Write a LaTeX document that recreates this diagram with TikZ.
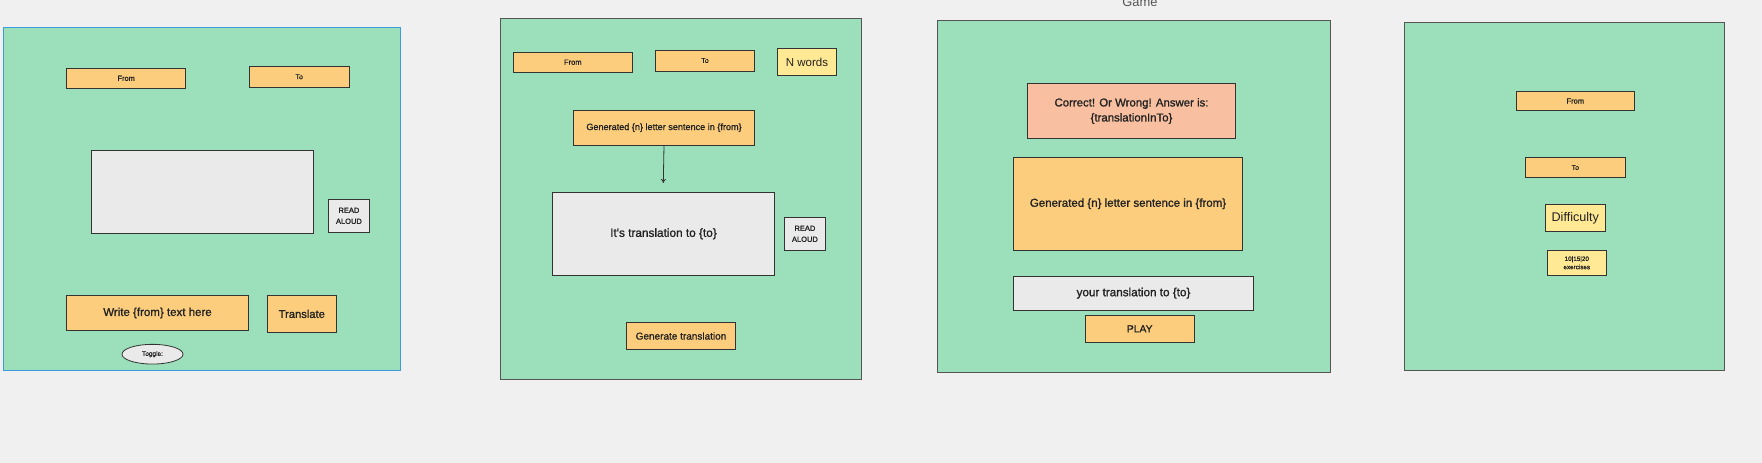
\documentclass[tikz,border=0pt]{standalone}
\usepackage{fontspec}
\setmainfont{Liberation Sans}
\newfontfamily\semib{Liberation Sans}[FakeBold=1.2]
\usetikzlibrary{shapes.geometric,arrows.meta}
\definecolor{bgc}{HTML}{F0F0F0}
\definecolor{greenc}{HTML}{9BE0BB}
\definecolor{orangec}{HTML}{FCCD7D}
\definecolor{yellowc}{HTML}{FFE994}
\definecolor{salmonc}{HTML}{F8BFA0}
\definecolor{grayc}{HTML}{EAEAEA}
\definecolor{bluec}{HTML}{3B9DDD}
\definecolor{framec}{HTML}{555555}
\definecolor{linec}{HTML}{333333}
\definecolor{textc}{HTML}{222222}
\newcommand\fsz[2]{\fontsize{#1}{#2}\selectfont}
\tikzset{
  panel/.style={draw=framec, line width=0.9pt, fill=greenc, inner sep=0pt},
  panelblue/.style={panel, draw=bluec},
  box/.style={draw=linec, line width=0.8pt, inner sep=0pt, text=textc, align=center},
  obox/.style={box, fill=orangec},
  ybox/.style={box, fill=yellowc},
  sbox/.style={box, fill=salmonc},
  gbox/.style={box, fill=grayc},
  arr/.style={-{To[length=4pt,width=5pt]}, draw=linec, line width=0.8pt},
}
\begin{document}
\begin{tikzpicture}[x=1pt,y=-1pt]
\useasboundingbox[fill=bgc] (0,0) rectangle (1762,463);
% Game label
\node[text=framec, anchor=base, font=\fsz{12.9}{15}] (game) at (1140,6) {Game};
% Panel 1
\node[panelblue, minimum width=397.7pt, minimum height=343.4pt] (p1) at (201.85,199) {};
\node[obox, minimum width=119pt, minimum height=20pt, font=\semib\fsz{7.4}{9}] (from1) at (126.2,78.3) {From};
\node[obox, minimum width=99.7pt, minimum height=21pt, font=\semib\fsz{7}{9}] (to1) at (299.2,76.8) {To};
\node[gbox, minimum width=222.3pt, minimum height=83pt] (gray1) at (202.2,191.8) {};
\node[gbox, minimum width=40.3pt, minimum height=33pt, font=\semib\fsz{7.5}{11}] (read1) at (348.9,215.8) {READ\\ALOUD};
\node[obox, minimum width=181.6pt, minimum height=34.6pt, font=\semib\fsz{11.5}{14}] (write1) at (157.5,313) {Write \{from\} text here};
\node[obox, minimum width=69pt, minimum height=36.3pt, font=\semib\fsz{11.2}{14}] (trans1) at (301.8,313.9) {Translate};
\node[gbox, ellipse, minimum width=61pt, minimum height=19.7pt, font=\semib\fsz{6.5}{8}] (toggle) at (152.5,354.2) {Toggle:};
% Panel 2
\node[panel, minimum width=361.4pt, minimum height=360.7pt] (p2) at (681,198.7) {};
\node[obox, minimum width=119pt, minimum height=19.7pt, font=\semib\fsz{7.5}{9}] (from2) at (572.8,62.2) {From};
\node[obox, minimum width=99.4pt, minimum height=21pt, font=\semib\fsz{7}{9}] (to2) at (705,60.5) {To};
\node[ybox, minimum width=59.4pt, minimum height=27.4pt, font=\fsz{11.5}{14}] (nwords) at (807,62) {N words};
\node[obox, minimum width=181.4pt, minimum height=34.7pt, font=\semib\fsz{9.1}{11}] (gen2) at (664,127.7) {Generated \{n\} letter sentence in \{from\}};
\node[gbox, minimum width=222.4pt, minimum height=83pt, font=\semib\fsz{11.8}{14}] (gray2) at (663.5,233.8) {It's translation to \{to\}};
\node[gbox, minimum width=40.3pt, minimum height=33pt, font=\semib\fsz{7.5}{11}] (read2) at (804.9,233.8) {READ\\ALOUD};
\node[obox, minimum width=109.4pt, minimum height=27.4pt, font=\semib\fsz{10}{12}] (gentr) at (681,336) {Generate translation};
\coordinate (arrend) at (663.3,183);
\draw[arr] (gen2.south) -- (arrend);
% Panel 3
\node[panel, minimum width=393pt, minimum height=351.6pt] (p3) at (1133.8,196.5) {};
\node[sbox, minimum width=208.4pt, minimum height=54.6pt, font=\semib\fsz{11.4}{15}] (correct) at (1131.5,111) {Correct! Or Wrong! Answer is:\\\{translationInTo\}};
\node[obox, minimum width=228.6pt, minimum height=93pt, font=\semib\fsz{11.5}{14}] (gen3) at (1128,203.8) {Generated \{n\} letter sentence in \{from\}};
\node[gbox, minimum width=239.6pt, minimum height=34.3pt, font=\semib\fsz{11.7}{14}] (your) at (1133.5,293.2) {your translation to \{to\}};
\node[obox, minimum width=109.3pt, minimum height=27pt, font=\semib\fsz{10.3}{12}] (play) at (1139.7,328.8) {PLAY};
% Panel 4
\node[panel, minimum width=320pt, minimum height=348pt] (p4) at (1564.3,196.3) {};
\node[obox, minimum width=118.7pt, minimum height=19.4pt, font=\semib\fsz{7.5}{9}] (from4) at (1575.3,101) {From};
\node[obox, minimum width=100pt, minimum height=20.4pt, font=\semib\fsz{7}{9}] (to4) at (1575.3,167.5) {To};
\node[ybox, minimum width=60pt, minimum height=27pt, font=\fsz{12.6}{15}] (diff) at (1575.3,217.8) {Difficulty};
\node[ybox, minimum width=59.7pt, minimum height=25.7pt, font=\semib\fsz{6.3}{8.3}] (ex) at (1576.8,262.8) {10|15|20\\exercises};
\end{tikzpicture}
\end{document}
